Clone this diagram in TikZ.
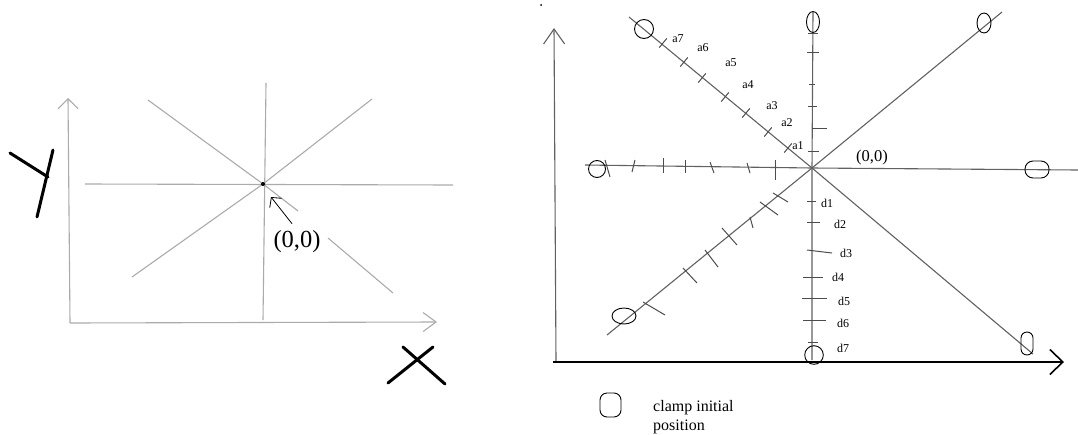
\documentclass[tikz,border=0pt]{standalone}
\usepackage{fontspec}
\setmainfont{Liberation Serif}
\usetikzlibrary{arrows.meta}

\tikzset{
  faint/.style={draw=black!33, line width=1.1pt},
  ray/.style={draw=black!62, line width=1.1pt},
  tickline/.style={draw=black!70, line width=1pt},
  clamp/.style={draw=black, line width=0.9pt},
  pen/.style={draw=black, line width=3pt, line cap=round},
  lbl/.style={inner sep=0pt, font=\fontsize{12}{14}\selectfont},
}

\begin{document}
\begin{tikzpicture}[x=1pt,y=-1pt]
    \useasboundingbox (0,0) rectangle (1078,434);

    % ---------------- left sketch ----------------
    % Axes
    \draw[faint,-{Straight Barb[length=10pt,width=20pt]}] (70,323) -- (68,98);
    \draw[faint,-{Straight Barb[length=13pt,width=19pt]}] (70,323) -- (437,322);

    % Lines through the origin
    \coordinate (lO) at (263,184);
    \draw[faint] (85,184) -- (453,185);
    \draw[faint] (266,83) -- (263,320);
    \draw[faint] (132,277) -- (lO) -- (372,99);
    \draw[faint] (148,100) -- (lO) -- (298,211);
    \draw[faint] (328,238) -- (393,293);
    \fill (lO) circle (2pt);

    % Origin label and pointer
    \node[inner sep=0pt,font=\fontsize{24.5}{28}\selectfont] (lorig) at (297,242) {(0,0)};
    \coordinate (lptr) at (271,197);
    \draw[line width=0.8pt,-{Straight Barb[length=7pt,width=15pt]}] (lorig.north) ++(-5,-7) -- (lptr);

    % Hand written Y and X
    \draw[pen] (10,153) -- (48,177);
    \draw[pen] (53,150) -- (37,217);
    \draw[pen] (388,383) -- (433,347);
    \draw[pen] (403,347) -- (445,384);

    % ---------------- right sketch ----------------
    \fill (541,5) circle (1pt);

    % Axes
    \draw[ray,-{Straight Barb[length=15pt,width=21pt]}] (556,362) -- (554,28);
    \draw[black,line width=1.6pt,-{Straight Barb[length=13pt,width=25pt]}] (553,362) -- (1064,362);

    % Lines through the origin
    \coordinate (O) at (812,168);
    \draw[ray] (585,165) -- (O) -- (1078,170);
    \draw[ray] (813,12) -- (O) -- (812,360);
    \draw[ray] (629,17) -- (O) -- (1033,354);
    \draw[ray] (607,335) -- (O) -- (1002,12);

    % Ticks on the upper left line
    \foreach \x/\y in {663/43, 684/62, 702/78, 725/97, 746/113, 768/132, 788/148}
      \draw[tickline] (\x,\y) ++(3.8,-4.6) -- ++(-7.6,9.2);

    % Ticks on the vertical line
    \foreach \y/\a/\b in {33/808/818, 52/807/819, 84/809/815, 106/808/817, 128/812/827, 151/808/819,
                          201/807/816, 222/807/820, 277/803/823, 298/802/827, 320/803/826, 342/808/818}
      \draw[tickline] (\a,\y) -- (\b,\y);
    \draw[tickline] (807,250) -- (832,253);

    % Ticks on the left horizontal line
    \foreach \a/\b/\c/\d in {605/160/610/177, 635/160/632/172, 663/158/663/173, 685/160/685/173,
                             710/162/714/173, 747/163/750/173, 775/160/775/180}
      \draw[tickline] (\a,\b) -- (\c,\d);

    % Ticks on the lower left line
    \foreach \a/\b/\c/\d in {773/193/788/202, 760/202/778/215, 750/217/753/228, 722/228/737/245,
                             705/250/718/267, 683/268/697/283, 643/302/665/315}
      \draw[tickline] (\a,\b) -- (\c,\d);

    % Labels a1..a7
    \foreach \n/\x/\y in {1/798/146, 2/787/123, 3/772/106, 4/748/85, 5/731/63, 6/703/48, 7/678/39}
      \node[lbl] (a\n) at (\x,\y) {a\n};

    % Labels d1..d7
    \foreach \n/\x/\y in {1/827/203, 2/840/224, 3/846/253, 4/838/277, 5/844/301, 6/843/323, 7/843/348}
      \node[lbl] (d\n) at (\x,\y) {d\n};

    \node[inner sep=0pt,font=\fontsize{16.5}{20}\selectfont] (rorig) at (872,158) {(0,0)};

    % Clamps at their initial positions
    \draw[clamp] (644,29) circle (9.5pt);
    \draw[clamp] (813,22) ellipse [x radius=6.5pt, y radius=10.5pt];
    \draw[clamp] (984,23) ellipse [x radius=7pt, y radius=10pt];
    \draw[clamp] (597,169) circle (8.5pt);
    \draw[clamp,rounded corners=8pt] (1025,161) rectangle (1049,178);
    \draw[clamp,rounded corners=6pt] (1021,332) rectangle (1033,355);
    \draw[clamp] (814,355) circle (9.3pt);
    \draw[clamp] (624,316) ellipse [x radius=12pt, y radius=8pt];

    % Legend
    \draw[clamp,rounded corners=7pt] (600,393) rectangle (621,417);
    \node[anchor=base west,inner sep=0pt,font=\fontsize{16}{20}\selectfont] (leg1) at (653,411) {clamp initial};
    \node[anchor=base west,inner sep=0pt,font=\fontsize{16}{20}\selectfont] (leg2) at (653,430) {position};
\end{tikzpicture}
\end{document}
